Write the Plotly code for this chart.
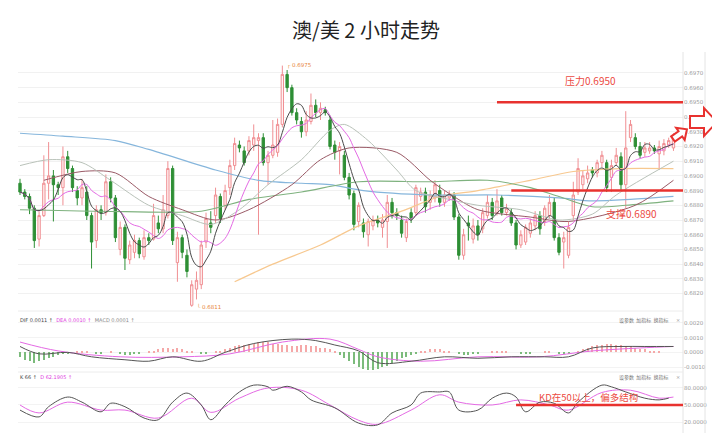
import math
import pandas as pd
import plotly.graph_objects as go

# ---------------- data (prices in units of 0.0001) ----------------
open_p = [6895, 6889, 6886, 6878, 6857, 6873, 6895, 6900, 6894, 6892,
          6913, 6905, 6890, 6885, 6889, 6873, 6856, 6877, 6875, 6896,
          6885, 6850, 6865, 6843, 6848, 6856, 6845, 6858, 6857, 6868,
          6864, 6873, 6905, 6841, 6858, 6846, 6812, 6823, 6826, 6855,
          6868, 6873, 6886, 6880, 6892, 6907, 6921, 6917, 6917, 6921,
          6924, 6926, 6909, 6914, 6916, 6935, 6969, 6960, 6943, 6937,
          6930, 6937, 6948, 6943, 6945, 6938, 6921, 6917, 6914, 6899,
          6888, 6869, 6868, 6860, 6866, 6870, 6865, 6869, 6882, 6875,
          6870, 6858, 6875, 6875, 6886, 6889, 6882, 6885, 6890, 6882,
          6885, 6887, 6872, 6846, 6868, 6857, 6866, 6864, 6873, 6882,
          6875, 6885, 6875, 6875, 6868, 6853, 6855, 6861, 6866, 6873,
          6869, 6873, 6882, 6858, 6855, 6846, 6873, 6889, 6894, 6898,
          6904, 6902, 6909, 6909, 6899, 6909, 6913, 6894, 6926, 6926,
          6920, 6916, 6917, 6919, 6915, 6917, 6921, 6919]
high_p = [6898, 6891, 6888, 6880, 6876, 6914, 6923, 6904, 6896, 6920,
          6917, 6907, 6893, 6898, 6893, 6875, 6880, 6880, 6901, 6899,
          6887, 6869, 6867, 6856, 6860, 6858, 6863, 6861, 6881, 6873,
          6887, 6910, 6907, 6862, 6860, 6850, 6829, 6835, 6856, 6875,
          6876, 6892, 6888, 6894, 6911, 6926, 6924, 6920, 6927, 6935,
          6929, 6929, 6917, 6938, 6939, 6975, 6972, 6962, 6946, 6940,
          6944, 6956, 6952, 6950, 6947, 6941, 6924, 6923, 6917, 6902,
          6890, 6882, 6871, 6871, 6873, 6873, 6874, 6887, 6885, 6878,
          6873, 6871, 6878, 6894, 6892, 6892, 6890, 6897, 6894, 6890,
          6890, 6889, 6874, 6864, 6873, 6871, 6870, 6878, 6887, 6885,
          6891, 6887, 6881, 6878, 6870, 6863, 6867, 6871, 6876, 6876,
          6880, 6887, 6885, 6861, 6862, 6869, 6896, 6912, 6904, 6907,
          6906, 6911, 6917, 6911, 6911, 6919, 6916, 6944, 6938, 6929,
          6923, 6923, 6923, 6921, 6924, 6925, 6926, 6929]
low_p = [6887, 6884, 6874, 6851, 6852, 6872, 6884, 6869, 6887, 6880,
         6902, 6889, 6880, 6880, 6870, 6837, 6851, 6870, 6873, 6882,
         6855, 6846, 6836, 6840, 6844, 6844, 6843, 6853, 6856, 6861,
         6861, 6871, 6853, 6828, 6844, 6831, 6811, 6816, 6823, 6851,
         6861, 6868, 6868, 6877, 6887, 6904, 6916, 6907, 6914, 6917,
         6860, 6907, 6894, 6912, 6913, 6933, 6957, 6941, 6935, 6926,
         6927, 6935, 6940, 6938, 6941, 6918, 6911, 6901, 6897, 6884,
         6863, 6865, 6858, 6852, 6863, 6865, 6858, 6851, 6871, 6870,
         6858, 6855, 6868, 6873, 6883, 6875, 6877, 6882, 6879, 6879,
         6883, 6870, 6843, 6843, 6856, 6854, 6856, 6861, 6871, 6870,
         6873, 6873, 6873, 6866, 6850, 6851, 6853, 6858, 6863, 6860,
         6866, 6871, 6856, 6846, 6837, 6844, 6870, 6887, 6891, 6895,
         6899, 6899, 6906, 6889, 6889, 6907, 6890, 6878, 6923, 6918,
         6912, 6913, 6915, 6915, 6904, 6914, 6919, 6917]
close_p = [6889, 6886, 6878, 6856, 6873, 6895, 6900, 6894, 6892, 6913,
           6905, 6892, 6885, 6892, 6873, 6855, 6877, 6875, 6896, 6885,
           6858, 6865, 6844, 6853, 6856, 6847, 6858, 6856, 6873, 6864,
           6877, 6905, 6856, 6858, 6848, 6835, 6826, 6829, 6853, 6871,
           6865, 6887, 6871, 6890, 6907, 6922, 6919, 6909, 6924, 6926,
           6926, 6909, 6914, 6921, 6935, 6969, 6960, 6943, 6938, 6930,
           6938, 6948, 6943, 6946, 6943, 6920, 6916, 6920, 6899, 6887,
           6867, 6880, 6862, 6869, 6870, 6868, 6870, 6882, 6875, 6873,
           6861, 6869, 6871, 6892, 6889, 6879, 6887, 6894, 6882, 6887,
           6887, 6872, 6846, 6860, 6866, 6866, 6860, 6875, 6882, 6873,
           6883, 6875, 6878, 6868, 6853, 6860, 6865, 6868, 6873, 6864,
           6878, 6882, 6858, 6848, 6858, 6865, 6887, 6905, 6900, 6902,
           6902, 6909, 6914, 6892, 6907, 6914, 6894, 6919, 6935, 6920,
           6914, 6919, 6919, 6917, 6920, 6922, 6924, 6926]

# longer moving averages (candle index, price x1e4)
ma20_idx = [0, 6, 13, 19, 27, 34, 40, 46, 52, 59, 65, 68, 73, 79, 83, 90, 96, 105, 113, 120, 125, 137]
ma20_val = [6907, 6911, 6909, 6897, 6880, 6873, 6867, 6877, 6894, 6911, 6931, 6935, 6924, 6904, 6890, 6884, 6880, 6877, 6870, 6874, 6887, 6910]
ma30_idx = [5, 13, 20, 27, 34, 41, 48, 57, 63, 69, 79, 86, 90, 96, 107, 115, 129, 137]
ma30_val = [6897, 6903, 6902, 6886, 6877, 6870, 6877, 6894, 6911, 6919, 6916, 6897, 6888, 6877, 6872, 6869, 6880, 6897]
ma60_idx = [0, 17, 38, 48, 59, 71, 86, 98, 107, 113, 120, 127, 137]
ma60_val = [6877, 6876, 6876, 6884, 6889, 6896, 6896, 6897, 6892, 6886, 6879, 6880, 6883]
ma120_idx = [0, 9, 20, 27, 41, 50, 59, 65, 72, 86, 100, 113, 120, 128, 137]
ma120_val = [6929, 6927, 6924, 6918, 6904, 6897, 6895, 6894, 6890, 6887, 6887, 6885, 6883, 6884, 6886]
ma250_idx = [45, 53, 63, 71, 80, 88, 96, 107, 116, 126, 137]
ma250_val = [6828, 6840, 6853, 6866, 6876, 6886, 6890, 6897, 6903, 6905, 6905]

# MACD (x1e-4)
dif_idx = [0, 4, 10, 15, 22, 27, 32, 38, 43, 49, 57, 62, 66, 71, 75, 82, 89, 96, 103, 110, 115, 120, 126, 131, 137]
dif_val = [4, -1, 0, -3, -5, -6, -3, -6, 0, 6, 9, 8, 5, 1, -7, -6, -3, -4, -3, -3, -3, 3, 4, 4, 4]
dea_idx = [0, 8, 21, 34, 44, 55, 65, 71, 75, 84, 96, 109, 120, 130, 137]
dea_val = [7, 1, -3, -3, -1, 7, 9, 2, -3, -6, -3, -3, 1, 3, 4]
macd_hist = [-3, -5, -6, -7, -6, -5, -4,
             -3, -2, -1, -1, 0, 1, 1,
             1, 0, -1, -1, 0, 1, 0,
             -1, -2, -2, -1, -1, 0, 1, 1,
             2, 3, 3, 2, 3, 2, 1, 1,
             0, -1, -1, 0, 1,
             1, 2, 3, 4, 5, 5, 6, 6, 7, 7, 7, 6, 6, 5, 5, 4, 4,
             5, 5, 4, 4, 3, 3, 2, 1,
             -2, -4, -6, -8, -10, -11, -12, -12, -11,
             -10, -9, -7, -6, -4, -3, -2, -1,
             1, 1, 2, 2, 2, 1, 1,
             0, -1, -2, -2, -1, -1, 0, 0, 1,
             1, 1, 1, 0, 0, -1, -1, -1, 0, 0, 1, 1, 0,
             -1, -1, -1, 0, 1, 2,
             3, 4, 5, 5, 6, 6, 5, 5, 4, 4, 3,
             2, 2, 1, 1, 1, 0, 0, 0]

# KD
k_idx = [0, 4, 6, 10, 13, 17, 19, 22, 26, 29, 32, 35, 38, 40, 43, 46, 49, 52, 53, 56, 59, 61, 66, 71, 75, 78,
         82, 84, 88, 90, 92, 96, 99, 102, 104, 106, 109, 112, 115, 117, 122, 124, 127, 131, 134, 136]
k_val = [41, 29, 47, 64, 55, 38, 53, 47, 27, 24, 55, 71, 50, 24, 50, 73, 85, 82, 76, 83, 73, 59, 45, 18, 15, 36,
         50, 71, 73, 73, 41, 41, 62, 71, 64, 38, 55, 53, 36, 55, 85, 82, 73, 62, 59, 62]
d_idx = [0, 4, 10, 17, 22, 29, 36, 40, 46, 52, 59, 65, 71, 75, 82, 88, 92, 99, 105, 111, 115, 122, 128, 134, 137]
d_val = [50, 36, 55, 41, 41, 27, 62, 37, 62, 80, 76, 50, 23, 16, 41, 68, 55, 50, 59, 50, 41, 72, 76, 62, 64]

price_ticks = [6820, 6830, 6840, 6850, 6860, 6870, 6880, 6890, 6900, 6910, 6920, 6930, 6940, 6950, 6960, 6970]
macd_ticks = [20, 10, 0, -10]
kd_ticks = [80, 50, 20]
resist_level = 6950
support_level = 6890
kd_level = 50

# ---------------- figure ----------------
# the page body has an 8px margin, so the figure is drawn 8px smaller and
# all reference pixel positions are shifted by that offset
OFF = 8
W, H = 720 - OFF, 433 - OFF
ML, MR, MT, MB = 18 - OFF, 37, 55 - OFF, 3
PW, PH = W - ML - MR, H - MT - MB


def px(xp, yp):
    return (xp - OFF - ML) / PW, (H - MB - (yp - OFF)) / PH


def sc(v):
    return [a / 10000 for a in v]


N = len(close_p)
xs = list(range(N))
XR = [-0.42, 139.0]

closes = pd.Series(sc(close_p))
ma5 = closes.rolling(5, min_periods=1).mean()
ma10 = closes.rolling(10, min_periods=1).mean()

fig = go.Figure()
fig.add_trace(go.Candlestick(
    x=xs, open=sc(open_p), high=sc(high_p), low=sc(low_p), close=sc(close_p),
    increasing=dict(line=dict(color="#f08f93", width=1), fillcolor="rgba(255,240,240,0.85)"),
    decreasing=dict(line=dict(color="#2e8f35", width=1), fillcolor="#2e8f35"),
    whiskerwidth=0, showlegend=False, hoverinfo="skip", xaxis="x", yaxis="y"))

line_specs = [
    (ma250_idx, sc(ma250_val), "#f7c88f", 1.2),
    (ma120_idx, sc(ma120_val), "#86b6dc", 1.2),
    (ma60_idx, sc(ma60_val), "#7fb27f", 1.1),
    (ma30_idx, sc(ma30_val), "#9a5a66", 1.0),
    (ma20_idx, sc(ma20_val), "#b9c2b9", 1.0),
]
for xi, yv, col, w in line_specs:
    fig.add_trace(go.Scatter(x=xi, y=yv, mode="lines", line=dict(color=col, width=w, shape="spline", smoothing=0.8),
                             showlegend=False, hoverinfo="skip", xaxis="x", yaxis="y"))
fig.add_trace(go.Scatter(x=xs, y=ma10, mode="lines", line=dict(color="#e46ae4", width=1, shape="spline"),
                         showlegend=False, hoverinfo="skip", xaxis="x", yaxis="y"))
fig.add_trace(go.Scatter(x=xs, y=ma5, mode="lines", line=dict(color="#4a4a4a", width=1, shape="spline"),
                         showlegend=False, hoverinfo="skip", xaxis="x", yaxis="y"))

# MACD panel
hist = [h / 10000 for h in macd_hist]
fig.add_trace(go.Bar(x=xs, y=hist, width=0.22,
                     marker=dict(color=["#f5a8a8" if h > 0 else "#7cbb7c" for h in hist], line=dict(width=0)),
                     showlegend=False, hoverinfo="skip", xaxis="x2", yaxis="y2"))
fig.add_trace(go.Scatter(x=dea_idx, y=[v / 10000 for v in dea_val], mode="lines",
                         line=dict(color="#e46ae4", width=1, shape="spline"), showlegend=False,
                         hoverinfo="skip", xaxis="x2", yaxis="y2"))
fig.add_trace(go.Scatter(x=dif_idx, y=[v / 10000 for v in dif_val], mode="lines",
                         line=dict(color="#555555", width=1, shape="spline"), showlegend=False,
                         hoverinfo="skip", xaxis="x2", yaxis="y2"))

# KD panel
fig.add_trace(go.Scatter(x=d_idx, y=d_val, mode="lines", line=dict(color="#e46ae4", width=1, shape="spline"),
                         showlegend=False, hoverinfo="skip", xaxis="x3", yaxis="y3"))
fig.add_trace(go.Scatter(x=k_idx, y=k_val, mode="lines", line=dict(color="#555555", width=1, shape="spline"),
                         showlegend=False, hoverinfo="skip", xaxis="x3", yaxis="y3"))

axfont = dict(size=5.5, color="#9a9a9a", family="DejaVu Sans")
xcommon = dict(range=XR, showticklabels=False, showgrid=False, zeroline=False, showline=False, ticks="")
fig.update_layout(
    width=W, height=H, margin=dict(l=ML, r=MR, t=MT, b=MB),
    paper_bgcolor="white", plot_bgcolor="white", bargap=0,
    title=dict(text="澳/美 2 小时走势", x=(366 - OFF) / W, y=1 - (31 - OFF) / H, xanchor="center", yanchor="middle",
               font=dict(family="Noto Sans CJK SC", size=20, color="#222222")),
    xaxis=dict(domain=[0, 1], anchor="y", rangeslider=dict(visible=False), **xcommon),
    xaxis2=dict(domain=[0, 1], anchor="y2", **xcommon),
    xaxis3=dict(domain=[0, 1], anchor="y3", **xcommon),
    yaxis=dict(domain=[px(0, 310)[1], 1.0], side="right", range=[0.68088, 0.69822],
               tickvals=sc(price_ticks), ticktext=["%.4f" % (t / 10000) for t in price_ticks],
               tickfont=axfont, showgrid=True, gridcolor="#f1f1f1", zeroline=False, ticks=""),
    yaxis2=dict(domain=[px(0, 372)[1], px(0, 313)[1]], side="right", range=[-0.00133, 0.00267],
                tickvals=[t / 10000 for t in macd_ticks], ticktext=["%.4f" % (t / 10000) for t in macd_ticks],
                tickfont=axfont, showgrid=True, gridcolor="#f3f3f3", zeroline=False, ticks=""),
    yaxis3=dict(domain=[0, px(0, 373)[1]], side="right", range=[5.9, 106.4],
                tickvals=kd_ticks, ticktext=["%.4f" % t for t in kd_ticks],
                tickfont=axfont, showgrid=True, gridcolor="#f3f3f3", zeroline=False, ticks=""),
)

shapes = []
red = "#e8322f"
# separators
for xp in (683, 705):
    x0, y0 = px(xp, 52)
    _, y1 = px(xp, 433)
    shapes.append(dict(type="line", xref="paper", yref="paper", x0=x0, x1=x0, y0=y0, y1=y1,
                       line=dict(color="#e4e4e4", width=1)))
for yp in (311, 372):
    _, yy = px(0, yp)
    shapes.append(dict(type="line", xref="paper", yref="paper", x0=0, x1=1, y0=yy, y1=yy,
                       line=dict(color="#ececec", width=1)))
# resistance / support / KD 50 lines
shapes.append(dict(type="line", xref="x", yref="y", x0=100, x1=XR[1], y0=resist_level / 10000,
                   y1=resist_level / 10000, line=dict(color=red, width=2.5)))
shapes.append(dict(type="line", xref="x", yref="y", x0=103, x1=XR[1], y0=support_level / 10000,
                   y1=support_level / 10000, line=dict(color=red, width=2.5)))
shapes.append(dict(type="line", xref="x3", yref="y3", x0=104, x1=XR[1], y0=kd_level, y1=kd_level,
                   line=dict(color=red, width=2.5)))


def path_from(points):
    pts = [px(a, b) for a, b in points]
    return "M " + " L ".join("%.5f,%.5f" % p for p in pts) + " Z"


big_arrow = [(690, 116), (704, 116), (704, 108), (717, 122), (704, 136), (704, 128), (690, 128)]
shapes.append(dict(type="path", xref="paper", yref="paper", path=path_from(big_arrow),
                   line=dict(color=red, width=2), fillcolor="white"))
ang = math.radians(35)
local = [(0, -3.2), (9, -3.2), (9, -7.5), (17, 0), (9, 7.5), (9, 3.2), (0, 3.2)]
small_arrow = [(673 + a * math.cos(ang) + b * math.sin(ang), 139 - a * math.sin(ang) + b * math.cos(ang))
               for a, b in local]
shapes.append(dict(type="path", xref="paper", yref="paper", path=path_from(small_arrow),
                   line=dict(color=red, width=2), fillcolor="white"))
fig.update_layout(shapes=shapes)

ann = []


def text_px(xp, yp, txt, size, color, xanchor="center", family="Noto Sans CJK SC"):
    x0, y0 = px(xp, yp)
    ann.append(dict(xref="paper", yref="paper", x=x0, y=y0, text=txt, showarrow=False, xanchor=xanchor,
                    yanchor="middle", font=dict(size=size, color=color, family=family)))


text_px(590, 80, "压力0.6950", 10, "#ec4a42")
text_px(631, 213, "支撑0.6890", 10, "#ec4a42")
text_px(588, 397, "KD在50以上，偏多结构", 9.5, "#ec4a42")

hi_i = high_p.index(max(high_p))
lo_i = low_p.index(min(low_p))
ann.append(dict(xref="x", yref="y", x=hi_i + 0.6, y=max(high_p) / 10000, text="┌ %.4f" % (max(high_p) / 10000),
                showarrow=False, xanchor="left", yanchor="middle",
                font=dict(size=5.5, color="#e8853c", family="DejaVu Sans")))
ann.append(dict(xref="x", yref="y", x=lo_i + 0.6, y=min(low_p) / 10000, text="└ %.4f" % (min(low_p) / 10000),
                showarrow=False, xanchor="left", yanchor="middle",
                font=dict(size=5.5, color="#e8853c", family="DejaVu Sans")))

text_px(18, 320, "<span style='color:#444'>DIF 0.0011 ↑</span>  <span style='color:#e040e0'>DEA 0.0010 ↑</span>"
                 "  <span style='color:#888'>MACD 0.0001 ↑</span>", 5, "#444", xanchor="left", family="DejaVu Sans")
text_px(18, 377, "<span style='color:#444'>K 66 ↑</span>  <span style='color:#e040e0'>D 62.1905 ↑</span>",
        5, "#444", xanchor="left", family="DejaVu Sans")
for yp in (320, 377):
    text_px(643, yp, "设参数  加指标  换指标", 5, "#777777")
    text_px(678, yp, "×", 5, "#999999", family="DejaVu Sans")
fig.update_layout(annotations=ann)

fig.write_html("out.html")
